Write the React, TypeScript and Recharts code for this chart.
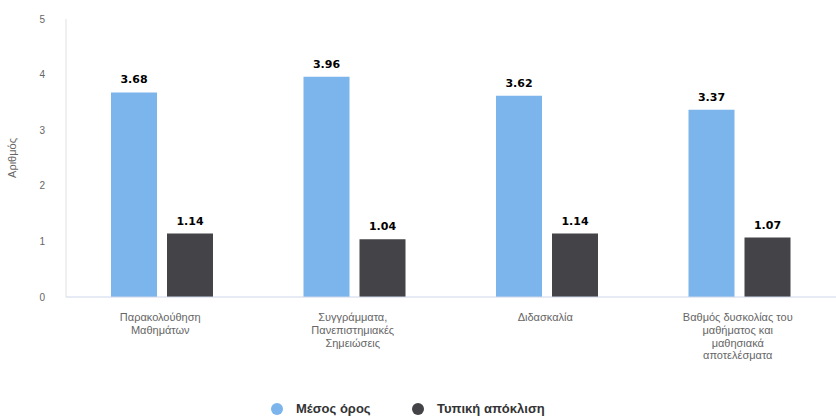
import React from "react";
import { BarChart, Bar, XAxis, YAxis, LabelList } from "recharts";

// categories of the survey (full names) and how they break on the axis
const categories = [
  "Παρακολούθηση Μαθημάτων",
  "Συγγράμματα, Πανεπιστημιακές Σημειώσεις",
  "Διδασκαλία",
  "Βαθμός δυσκολίας του μαθήματος και μαθησιακά αποτελέσματα",
];
const tickLines: string[][] = [
  ["Παρακολούθηση", "Μαθημάτων"],
  ["Συγγράμματα,", "Πανεπιστημιακές", "Σημειώσεις"],
  ["Διδασκαλία"],
  ["Βαθμός δυσκολίας του", "μαθήματος και", "μαθησιακά", "αποτελέσματα"],
];
const meanValues = [3.68, 3.96, 3.62, 3.37];
const stdValues = [1.14, 1.04, 1.14, 1.07];
const yTicks = [0, 1, 2, 3, 4, 5];

const data = categories.map((name, i) => ({
  name,
  mean: meanValues[i],
  std: stdValues[i],
}));

const FONT = "'Liberation Sans', Arial, Helvetica, sans-serif";
const BOLD_FONT = "'DejaVu Sans', Verdana, sans-serif";
const BLUE = "#7cb5ec";
const DARK = "#434348";

const CategoryTick = (props: any) => {
  const { x, y, index } = props;
  const lines = tickLines[index] || [];
  return (
    <text x={x - 2} y={y} textAnchor="middle" fill="#666" fontSize={11} fontFamily={FONT}>
      {lines.map((l, k) => (
        <tspan key={k} x={x - 2} dy={k === 0 ? 16 : 12.8}>
          {l}
        </tspan>
      ))}
    </text>
  );
};

const YTitle = (props: any) => {
  const vb = props.viewBox || {};
  const cy = (vb.y || 0) + (vb.height || 0) / 2;
  return (
    <text
      x={12}
      y={cy}
      transform={`rotate(-90 12 ${cy})`}
      textAnchor="middle"
      dominantBaseline="central"
      fill="#666"
      fontSize={11}
      fontFamily={FONT}
    >
      Αριθμός
    </text>
  );
};

const legendItems = [
  { label: "Μέσος όρος", color: BLUE, cx: 277 },
  { label: "Τυπική απόκλιση", color: DARK, cx: 418 },
];

const Legendish = () => (
  <>
    {legendItems.map((it) => (
      <div
        key={it.label}
        style={{
          position: "absolute",
          top: 401,
          left: it.cx - 6,
          display: "flex",
          alignItems: "center",
          gap: 13,
          fontFamily: FONT,
          fontSize: 13,
          fontWeight: 700,
          color: "#333",
          whiteSpace: "nowrap",
          lineHeight: "16px",
        }}
      >
        <span style={{ width: 12, height: 12, borderRadius: 6, background: it.color, display: "inline-block" }} />
        {it.label}
      </div>
    ))}
  </>
);

export default function App() {
  return (
    <div style={{ position: "absolute", left: 0, top: 0, width: 836, height: 418, background: "#fff" }}>
      <BarChart
        width={836}
        height={418}
        data={data}
        margin={{ top: 19, right: 0, left: 0, bottom: 0 }}
        barCategoryGap={44}
        barGap={10}
      >
        <XAxis
          dataKey="name"
          interval={0}
          tickLine={false}
          axisLine={{ stroke: "#ccd6eb" }}
          tick={<CategoryTick />}
          height={121}
        />
        <YAxis
          width={66}
          domain={[0, 5]}
          ticks={yTicks}
          tickLine={false}
          axisLine={{ stroke: "#e0e0e0" }}
          tick={{ fill: "#666", fontSize: 10, fontFamily: FONT }}
          tickMargin={15}
          label={<YTitle />}
        />
        <Bar dataKey="mean" fill={BLUE} barSize={46} isAnimationActive={false}>
          <LabelList
            dataKey="mean"
            position="top"
            offset={9}
            fill="#000"
            fontSize={11}
            fontWeight={700}
            fontFamily={BOLD_FONT}
          />
        </Bar>
        <Bar dataKey="std" fill={DARK} barSize={46} isAnimationActive={false}>
          <LabelList
            dataKey="std"
            position="top"
            offset={9}
            fill="#000"
            fontSize={11}
            fontWeight={700}
            fontFamily={BOLD_FONT}
          />
        </Bar>
      </BarChart>
      <Legendish />
    </div>
  );
}
